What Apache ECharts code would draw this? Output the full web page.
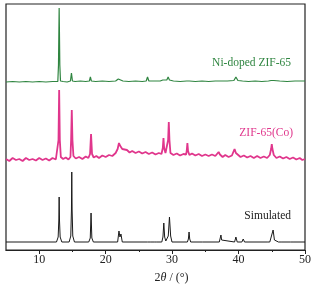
<!DOCTYPE html>
<html>
<head>
<meta charset="utf-8">
<script src="https://cdn.jsdelivr.net/npm/echarts@6/dist/echarts.min.js"></script>
<style>
html, body { margin: 0; padding: 0; background: #fff; }
#main { width: 321px; height: 289px; }
</style>
</head>
<body>
<div id="main"></div>
<script>
// [2theta, intensity]  (stacked with offsets)
var simulatedData = [
    [5,8],[12.6,8],[12.85,13],[12.95,30],[13.0,53],[13.05,30],[13.15,13],[13.4,8],
    [14.5,8],[14.75,14],[14.85,40],[14.9,78],[14.95,40],[15.05,14],[15.3,8],
    [17.45,8],[17.68,12],[17.8,37],[17.92,12],[18.15,8],
    [21.8,8],[22.0,19],[22.15,13],[22.3,16],[22.5,8],
    [26.3,8],[26.5,10],[26.7,8],[27.3,8],[27.5,10],[27.7,8],
    [28.45,8],[28.62,13],[28.75,27],[28.88,13],[29.05,9],[29.2,9],
    [29.42,14],[29.6,33],[29.78,14],[29.98,8],
    [32.3,8],[32.45,11],[32.55,18],[32.65,11],[32.8,8],
    [34.6,8],[34.7,9],[34.8,8],
    [37.1,8],[37.25,10],[37.35,15],[37.45,10],[37.6,8],
    [39.4,8],[39.6,13],[39.8,8],[40.5,8],[40.7,11],[40.9,8],
    [44.3,8],[44.5,10],[44.7,8],[45.0,10],[45.2,20],[45.4,10],[45.6,8],
    [46.0,8],[46.2,10],[46.4,8],[47.8,8],[48.0,9],[48.2,8],[50,8]
];

var coData = [
    [5.0,91],[5.5,89],[6.0,92],[6.5,90],[7.0,91],[7.5,89],[8.0,92],[8.5,90],[9.0,91],[9.5,89.5],
    [10.0,92],[10.5,90],[11.0,91.5],[11.5,89.5],[12.0,92],[12.5,90.5],[12.8,92],
    [12.9,110],[13.0,160],[13.1,110],[13.25,93],[13.6,91],[14.0,92.5],[14.4,90.5],[14.7,93],
    [14.8,110],[14.9,140],[15.0,110],[15.15,94],[15.5,91.5],[16.0,93],[16.5,91],[17.0,93.5],[17.4,92],
    [17.65,96],[17.8,116],[17.95,96],[18.2,92.5],[18.6,94],[19.0,92],[19.5,94.5],[20.0,93],[20.5,95],
    [21.0,94],[21.5,97],[21.8,101],[22.0,107],[22.2,104],[22.5,101],[22.8,99],[23.2,100],[23.6,97.5],
    [24.0,99],[24.5,97],[25.0,98.5],[25.5,96.5],[26.0,98],[26.5,96],[27.0,97.5],[27.5,95.5],[28.0,97],
    [28.4,96],[28.6,102],[28.7,112],[28.8,102],[29.0,97],[29.3,99],[29.4,110],[29.5,128],[29.6,110],
    [29.75,97],[30.2,95],[30.7,96.5],[31.2,94.5],[31.7,96],[32.1,95.5],[32.2,99],[32.3,107],[32.4,99],
    [32.6,95],[33.0,96.5],[33.5,94.5],[34.0,96],[34.5,94],[35.0,95.5],[35.5,94],[36.0,95.5],[36.5,94],
    [36.8,96],[37.0,98],[37.2,95.5],[37.6,93],[38.0,95],[38.5,93],[39.0,94.5],[39.2,96],[39.4,101],
    [39.6,97],[39.9,95],[40.3,93],[40.8,94.5],[41.3,92.5],[41.8,94],[42.3,92],[42.8,94],[43.3,92],
    [43.8,93.5],[44.3,92],[44.7,95],[44.9,101],[45.0,106],[45.1,101],[45.3,95],[45.7,92],[46.2,93.5],
    [46.7,91.5],[47.2,93],[47.7,91],[48.2,92.5],[48.7,90.5],[49.2,92],[49.6,90],[50.0,91]
];

var niData = [
    [5,168],[6,168.5],[7,168],[8,168.5],[9,168],[10,168.5],[11,168],[12,168.5],[12.8,168.5],
    [12.9,185],[13.0,242],[13.1,185],[13.2,169],[13.6,168.5],[14.2,168],[14.7,169],[14.85,177],[15.0,169],
    [15.4,168.5],[16.2,169],[17.0,168.5],[17.55,169],[17.7,173],[17.85,169],[18.5,168.5],[19.5,169],
    [20.5,168.5],[21.5,169],[21.9,171],[22.2,170.5],[22.6,169],[23.5,168.5],[24.5,169],[25.5,168.5],
    [26.1,169],[26.3,173],[26.5,169],[27.3,169],[28.2,169],[28.6,170],[28.75,172],[28.9,170],[29.2,170],
    [29.4,173],[29.6,170],[30.2,169],[31.2,168.5],[32.2,169],[32.4,171],[32.6,169],[33.5,168.5],[34.5,169],
    [35.5,168.5],[36.5,169],[37.0,169],[37.2,170],[37.4,169],[38.3,169],[39.3,169.5],[39.6,173],[39.9,169.5],
    [40.6,169],[41.5,168.5],[42.5,169],[43.5,168.5],[44.5,169],[44.9,169.5],[45.1,171],[45.3,169.5],
    [46.2,169],[47.3,168.5],[48.5,169],[50,169]
];

var majorTicks = [10, 20, 30, 40, 50];
var minorTicks = [15, 25, 35, 45];

var serif = 'Liberation Serif';
var chart = echarts.init(document.getElementById('main'), null, { renderer: 'canvas' });

var option = {
    animation: false,
    grid: {
        left: 6, right: 16, top: 4, bottom: 39,
        show: true, borderColor: '#222', borderWidth: 1.2, backgroundColor: 'transparent'
    },
    xAxis: [{
        type: 'value', min: 5, max: 50,
        axisLine: { show: true, lineStyle: { color: '#222', width: 1.2 } },
        axisTick: { show: true, inside: false, length: 4, customValues: majorTicks, lineStyle: { color: '#222', width: 1 } },
        axisLabel: { customValues: majorTicks, color: '#222', fontFamily: serif, fontSize: 12, margin: 4 },
        splitLine: { show: false },
        name: '2{i|θ} / (°)',
        nameLocation: 'middle', nameGap: 22,
        nameTextStyle: {
            color: '#222', fontFamily: serif, fontSize: 12, padding: [0, 0, 0, 32],
            rich: { i: { fontStyle: 'italic', fontFamily: serif, fontSize: 12, color: '#222' } }
        }
    }, {
        type: 'value', min: 5, max: 50, position: 'bottom',
        axisLine: { show: false },
        axisTick: { show: true, length: 2, customValues: minorTicks, lineStyle: { color: '#222', width: 1 } },
        axisLabel: { show: false },
        splitLine: { show: false }
    }],
    yAxis: {
        type: 'value', min: 0, max: 246,
        axisLine: { show: false }, axisTick: { show: false },
        axisLabel: { show: false }, splitLine: { show: false }
    },
    series: [{
        name: 'Simulated', type: 'line', data: simulatedData, showSymbol: false,
        lineStyle: { color: '#1a1a1a', width: 1 }
    }, {
        name: 'ZIF-65(Co)', type: 'line', data: coData, showSymbol: false,
        lineStyle: { color: '#e0368c', width: 1.8 }
    }, {
        name: 'Ni-doped ZIF-65', type: 'line', data: niData, showSymbol: false,
        lineStyle: { color: '#2f8540', width: 1.2 }
    }],
    graphic: [{
        type: 'text', right: 30, top: 57,
        style: { text: 'Ni-doped ZIF-65', fill: '#2f8540', font: '11.5px "Liberation Serif"' }
    }, {
        type: 'text', right: 28, top: 127,
        style: { text: 'ZIF-65(Co)', fill: '#e0368c', font: '11.5px "Liberation Serif"' }
    }, {
        type: 'text', right: 30, top: 210,
        style: { text: 'Simulated', fill: '#1a1a1a', font: '11.5px "Liberation Serif"' }
    }]
};

chart.setOption(option);
</script>
</body>
</html>
